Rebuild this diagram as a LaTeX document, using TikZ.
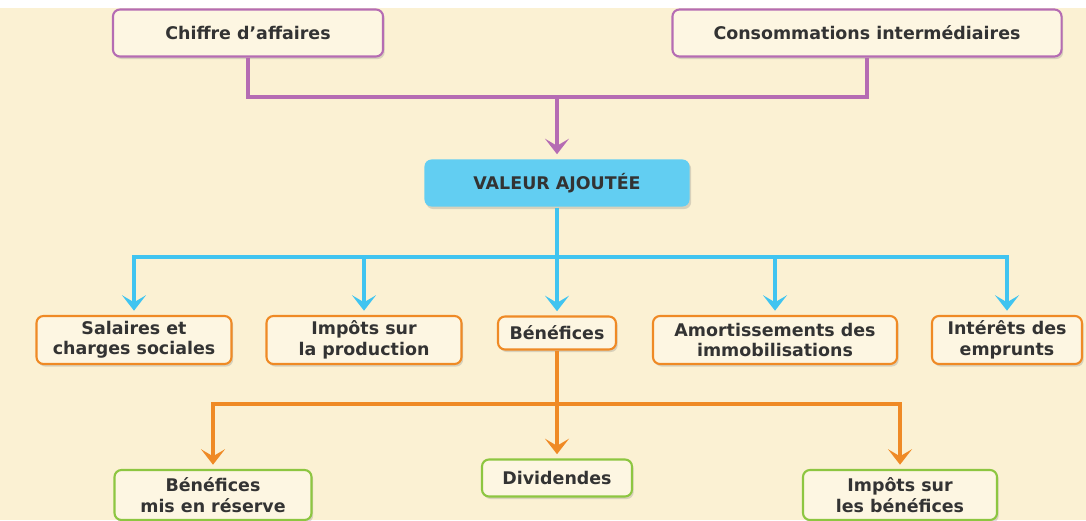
\documentclass[tikz,border=0pt]{standalone}
\usepackage{fontspec}
\setmainfont{DejaVu Sans}
\usetikzlibrary{arrows.meta,shadows}

\definecolor{fondcreme}{HTML}{FBF1D3}
\definecolor{boitecreme}{HTML}{FDF6E2}
\definecolor{violet}{HTML}{B56CB3}
\definecolor{bleuciel}{HTML}{40C4F0}
\definecolor{bleuboite}{HTML}{62CEF2}
\definecolor{orange}{HTML}{EF8A25}
\definecolor{vert}{HTML}{8DC641}
\definecolor{texte}{HTML}{333333}

\begin{document}
\begin{tikzpicture}
        [x=0.025cm,y=-0.025cm,
        font=\bfseries\fontsize{12.4}{14.5}\selectfont,
        boite/.style={rounded corners=5pt,line width=1.5pt,fill=boitecreme,
          text=texte,align=center,inner sep=0pt,
          drop shadow={opacity=0.28,shadow xshift=1.2pt,shadow yshift=-1.8pt}},
        source/.style={boite,draw=violet,minimum height=1.175cm},
        emploi/.style={boite,draw=orange,minimum height=1.2cm},
        partage/.style={boite,draw=vert,minimum height=1.25cm},
        trait/.style={line width=2.2pt},
        fleche/.style={trait,-{Stealth[length=11pt,width=17pt,inset=5pt]},shorten >=3pt}]
        \useasboundingbox (0,0) rectangle (1086,520);
        \fill[fondcreme] (0,8) rectangle (1086,520);
        % sources
        \node (ca) at (248,33) [source,minimum width=6.75cm] {Chiffre d'affaires};
        \node (ci) at (867,33) [source,minimum width=9.725cm] {Consommations intermédiaires};
        % valeur ajoutee
        \node (va) at (557,183) [boite,draw=none,fill=bleuboite,minimum width=6.625cm,minimum height=1.175cm] {VALEUR AJOUTÉE};
        % repartition
        \node (sal) at (134,340) [emploi,minimum width=4.875cm] {Salaires et\\charges sociales};
        \node (ip) at (364,340) [emploi,minimum width=4.875cm] {Impôts sur\\la production};
        \node (ben) at (557,333) [emploi,minimum width=2.95cm,minimum height=0.825cm] {Bénéfices};
        \node (am) at (775,340) [emploi,minimum width=6.1cm] {Amortissements des\\immobilisations};
        \node (int) at (1007,340) [emploi,minimum width=3.75cm] {Intérêts des\\emprunts};
        % benefices
        \node (res) at (213,495) [partage,minimum width=4.925cm] {Bénéfices\\mis en réserve};
        \node (div) at (557,478) [partage,minimum width=3.75cm,minimum height=0.925cm] {Dividendes};
        \node (ib) at (900,495) [partage,minimum width=4.85cm] {Impôts sur\\les bénéfices};

        \coordinate (jv) at (557,97);
        \coordinate (jb) at (557,257);
        \coordinate (jo) at (557,404);

        \draw[violet,trait] (ca.south) |- (jv) -| (ci.south);
        \draw[violet,fleche] (jv) -- (va.north);

        \draw[bleuciel,trait] (va.south) -- (jb);
        \foreach \n in {sal,ip,ben,am,int}
          \draw[bleuciel,fleche] (jb) -| (\n.north);

        \draw[orange,trait] (ben.south) -- (jo);
        \foreach \n in {res,div,ib}
          \draw[orange,fleche] (jo) -| (\n.north);
\end{tikzpicture}
\end{document}
